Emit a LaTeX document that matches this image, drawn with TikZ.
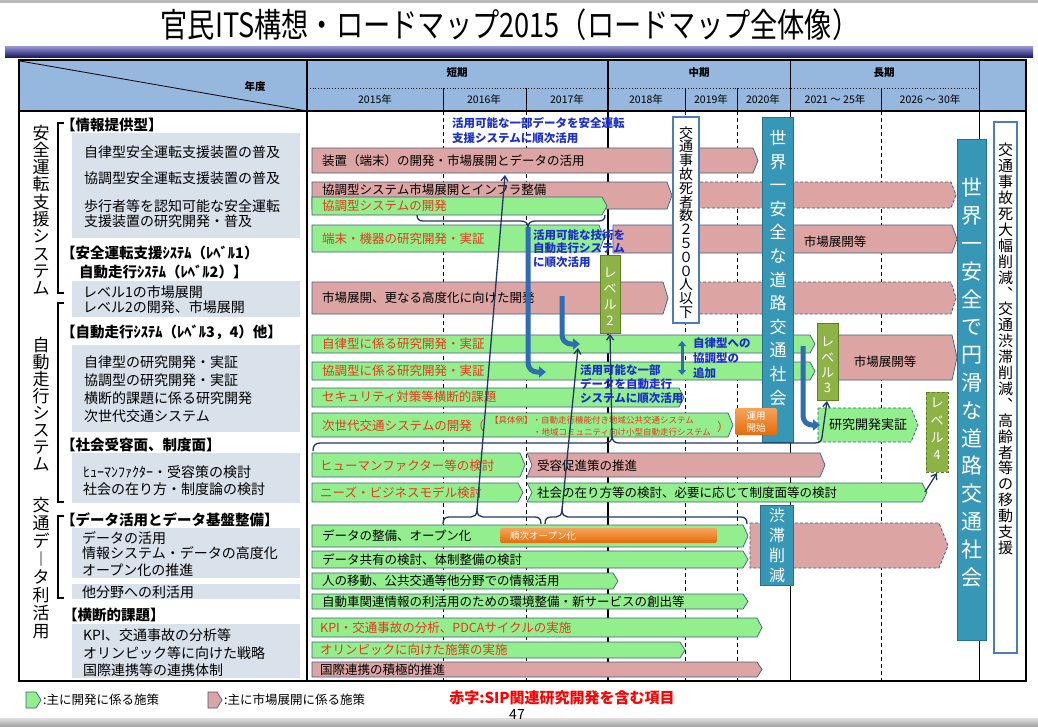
\documentclass[tikz,border=0pt]{standalone}
\usepackage{fontspec}
\usepackage{graphicx}
\setmainfont{Noto Sans CJK JP}
\usetikzlibrary{arrows.meta}
\definecolor{pk}{HTML}{DCA4A3}
\definecolor{gr}{HTML}{93EF8E}
\definecolor{bd}{HTML}{3F5F80}
\definecolor{tealc}{HTML}{3797B7}
\definecolor{teald}{HTML}{25718C}
\definecolor{olive}{HTML}{8DB346}
\definecolor{olived}{HTML}{5F7F26}
\definecolor{redt}{HTML}{E8361B}
\definecolor{bluet}{HTML}{1B2FCC}
\definecolor{navy}{HTML}{1F3864}
\definecolor{thk}{HTML}{2F6DB3}
\definecolor{gbox}{HTML}{D9E1EB}
\definecolor{hdr}{HTML}{96B7DE}
\definecolor{orng}{HTML}{E46C0A}
\definecolor{orngl}{HTML}{F6A35A}
\definecolor{wbord}{HTML}{4A7EBB}
\definecolor{barl}{HTML}{9A9AD8}
\definecolor{bard}{HTML}{1C1C66}
\def\cd{5}
\newcommand\chev[6]{%
  \path[#1] (#3,#5) -- ({#4-\cd},#5) -- (#4,{(#5+#6)/2}) -- ({#4-\cd},#6) -- (#3,#6) -- cycle;
  \coordinate (#2) at (#3,{(#5+#6)/2});}
\newcommand\chevn[6]{%
  \path[#1] (#3,#5) -- ({#4-\cd},#5) -- (#4,{(#5+#6)/2}) -- ({#4-\cd},#6) -- (#3,#6) -- ({#3+\cd},{(#5+#6)/2}) -- cycle;
  \coordinate (#2) at (#3,{(#5+#6)/2});}
\begin{document}
\begin{tikzpicture}[x=1pt,y=-1pt,
  pinkb/.style={fill=pk, draw=bd, line width=0.7},
  greenb/.style={fill=gr, draw=bd, line width=0.7},
  pinkd/.style={fill=pk, draw=bd, line width=0.8, dash pattern=on 3pt off 2pt},
  greend/.style={fill=gr, draw=bd, line width=0.8, dash pattern=on 3pt off 2pt},
  lab/.style={anchor=west, inner sep=0, font=\fontsize{12.5}{14}\selectfont},
  labr/.style={lab, text=redt},
  ltxt/.style={anchor=west, inner sep=0, font=\fontsize{14}{15}\selectfont},
  sec/.style={anchor=west, inner sep=0, font=\bfseries\fontsize{14.5}{16}\selectfont},
  blu/.style={anchor=west, inner sep=0, text=bluet, font=\bfseries\fontsize{11.5}{13}\selectfont},
  vt/.style={align=center, inner sep=0},
  hd/.style={font=\bfseries\fontsize{10.5}{12}\selectfont, inner sep=0},
  yr/.style={font=\fontsize{10.5}{12}\selectfont, inner sep=0},
  thinarr/.style={draw=navy, line width=1.3, -{Straight Barb[length=5pt,width=7pt]}},
  brace/.style={draw=navy, line width=1.3},
  fatarr/.style={draw=thk, line width=5, -{Triangle[length=7pt,width=11pt]}, rounded corners=9},
  gridd/.style={line width=0.8, dash pattern=on 4pt off 3pt},
  tbox/.style={fill=tealc, draw=teald, line width=1},
  wbox/.style={fill=white, draw=wbord, line width=2},
  obox/.style={fill=olive, draw=olived, line width=1}]
\useasboundingbox (0,0) rectangle (1038,726);
\fill[white] (0,0) rectangle (1038,726);
\fill[gray!55] (0,0) rectangle (1038,3);
\shade[top color=gray!25, bottom color=gray!70] (0,718) rectangle (1038,726);
% title
\node[font=\fontsize{27.5}{30}\selectfont, inner sep=0] (title) at (510,25) {\scalebox{0.99}[1.22]{官民ITS構想・ロードマップ2015（ロードマップ全体像）}};
\shade[top color=barl, bottom color=bard] (5,46) rectangle (1033,57);
% header
\fill[hdr] (19,60) rectangle (1026,111);
\draw[line width=0.8] (20,61) -- (307,111);
\node[hd] (nendo) at (255,87) {年度};
\draw[line width=0.8, dotted] (307,88) -- (979,88);
\foreach \x in {443,526,685,737,881} \draw[line width=0.6] (\x,88) -- (\x,111);
\node[hd] (tanki) at (457,73) {短期};
\node[hd] (chuki) at (699,73) {中期};
\node[hd] (choki) at (884,73) {長期};
\node[yr] (y15) at (375,99) {2015年};
\node[yr] (y16) at (484,99) {2016年};
\node[yr] (y17) at (567,99) {2017年};
\node[yr] (y18) at (646,99) {2018年};
\node[yr] (y19) at (711,99) {2019年};
\node[yr] (y20) at (763,99) {2020年};
\node[yr] (y21) at (835,99) {2021 ～ 25年};
\node[yr] (y26) at (930,99) {2026 ～ 30年};
% grid
\foreach \x in {443,526,685,737,881} \draw[gridd] (\x,111) -- (\x,681);
\draw[line width=1.6] (608,60) -- (608,681);
\draw[line width=1] (790,60) -- (790,681);
\draw[line width=1] (979,60) -- (979,681);
\draw[line width=2] (19,111) -- (1026,111);
\draw[line width=2] (307,60) -- (307,681);
\draw[line width=2.5] (19,60) rectangle (1026,681);
% left column
\node[vt, font=\fontsize{17}{17.3}\selectfont] (cat1) at (41,210) {安\\全\\運\\転\\支\\援\\シ\\ス\\テ\\ム};
\node[vt, font=\fontsize{17}{16.9}\selectfont] (cat2) at (41,404) {自\\動\\走\\行\\シ\\ス\\テ\\ム};
\node[vt, font=\fontsize{17}{18.1}\selectfont] (cat3) at (41,568) {交\\通\\デ\\︱\\タ\\利\\活\\用};
\draw[line width=1.3] (64,123) -- (58,123) -- (58,293) -- (64,293);
\draw[line width=1.3] (64,303) -- (58,303) -- (58,502) -- (64,502);
\draw[line width=1.3] (64,516) -- (58,516) -- (58,598) -- (64,598);
\fill[gbox] (72,133) rectangle (300,238);
\fill[gbox] (72,281) rectangle (300,317);
\fill[gbox] (72,345) rectangle (300,432);
\fill[gbox] (72,453) rectangle (300,503);
\fill[gbox] (72,528) rectangle (300,578);
\fill[gbox] (72,584) rectangle (300,599);
\fill[gbox] (72,624) rectangle (300,678);
\node[sec] (s1) at (61,125) {【情報提供型】};
\node[ltxt] (l1) at (84,152) {自律型安全運転支援装置の普及};
\node[ltxt] (l2) at (84,178) {協調型安全運転支援装置の普及};
\node[ltxt] (l3) at (84,206) {歩行者等を認知可能な安全運転};
\node[ltxt] (l4) at (84,221) {支援装置の研究開発・普及};
\node[sec] (s2) at (61,253) {【安全運転支援ｼｽﾃﾑ（ﾚﾍﾞﾙ1）};
\node[sec] (s2b) at (79,272) {自動走行ｼｽﾃﾑ（ﾚﾍﾞﾙ2）】};
\node[ltxt] (l5) at (83,292) {レベル1の市場展開};
\node[ltxt] (l6) at (83,307) {レベル2の開発、市場展開};
\node[sec] (s3) at (61,332) {【自動走行ｼｽﾃﾑ（ﾚﾍﾞﾙ3，4）他】};
\node[ltxt] (l7) at (84,362) {自律型の研究開発・実証};
\node[ltxt] (l8) at (84,380) {協調型の研究開発・実証};
\node[ltxt] (l9) at (84,398) {横断的課題に係る研究開発};
\node[ltxt] (l10) at (84,416) {次世代交通システム};
\node[sec] (s4) at (61,445) {【社会受容面、制度面】};
\node[ltxt] (l11) at (83,472) {ﾋｭｰﾏﾝﾌｧｸﾀｰ・受容策の検討};
\node[ltxt] (l12) at (83,489) {社会の在り方・制度論の検討};
\node[sec] (s5) at (61,520) {【データ活用とデータ基盤整備】};
\node[ltxt] (l13) at (82,538) {データの活用};
\node[ltxt] (l14) at (82,553) {情報システム・データの高度化};
\node[ltxt] (l15) at (82,570) {オープン化の推進};
\node[ltxt] (l16) at (82,592) {他分野への利活用};
\node[sec] (s6) at (63,615) {【横断的課題】};
\node[ltxt] (l17) at (83,635) {KPI、交通事故の分析等};
\node[ltxt] (l18) at (83,653) {オリンピック等に向けた戦略};
\node[ltxt] (l19) at (83,670) {国際連携等の連携体制};
% bars
\chev{pinkb}{p1}{312}{758}{148}{173}
\node[lab] (p1t) at (322,161) {装置（端末）の開発・市場展開とデータの活用};
\chev{pinkb}{p2}{312}{672}{182}{209}
\node[lab] (p2t) at (322,190) {協調型システム市場展開とインフラ整備};
\chev{pinkd}{p2d}{690}{956}{182}{208}
\chev{greenb}{g2}{312}{607}{197}{215}
\node[labr] (g2t) at (322,206) {協調型システムの開発};
\chev{greenb}{g3}{312}{604}{225}{252}
\node[labr] (g3t) at (322,239) {端末・機器の研究開発・実証};
\chev{pinkb}{p3}{613}{957}{225}{253}
\node[lab, anchor=center] (p3t) at (835,242) {市場展開等};
\chev{pinkb}{p4}{312}{668}{282}{314}
\node[lab] (p4t) at (322,298) {市場展開、更なる高度化に向けた開発};
\chev{pinkd}{p4d}{688}{956}{282}{314}
\chev{greenb}{g5}{312}{815}{335}{353}
\node[labr] (g5t) at (322,344) {自律型に係る研究開発・実証};
\chev{greenb}{g6}{312}{815}{362}{380}
\node[labr] (g6t) at (322,371) {協調型に係る研究開発・実証};
\chev{greenb}{g7}{312}{684}{388}{407}
\node[labr] (g7t) at (322,397) {セキュリティ対策等横断的課題};
\chev{greenb}{g8}{312}{733}{413}{437}
\node[labr] (g8t) at (322,426) {次世代交通システムの開発（};
\node[anchor=west, inner sep=0, text=redt, font=\fontsize{8.5}{9}\selectfont] (g8a) at (490,420) {【具体例】・自動走行機能付き地域公共交通システム};
\node[anchor=west, inner sep=0, text=redt, font=\fontsize{8.5}{9}\selectfont] (g8b) at (533,432) {・地域コミュニティ向け小型自動走行システム};
\node[anchor=west, inner sep=0, text=redt, font=\fontsize{12}{13}\selectfont] (g8c) at (717,427) {）};
\chev{pinkb}{p5}{837}{957}{335}{380}
\node[lab, anchor=center] (p5t) at (885,362) {市場展開等};
\def\cd{7}
\chev{greend}{g9}{818}{918}{408}{442}
\def\cd{5}
\node[anchor=center, inner sep=0, font=\fontsize{13}{14}\selectfont] (g9t) at (868,425) {研究開発実証};
\chev{greenb}{g10}{312}{525}{453}{477}
\node[labr] (g10t) at (320,466) {ヒューマンファクター等の検討};
\chevn{pinkb}{p6}{527}{825}{453}{477}
\node[lab] (p6t) at (537,466) {受容促進策の推進};
\chev{greenb}{g11}{312}{523}{483}{502}
\node[labr] (g11t) at (320,493) {ニーズ・ビジネスモデル検討};
\chevn{greenb}{g12}{527}{927}{483}{502}
\node[lab] (g12t) at (537,493) {社会の在り方等の検討、必要に応じて制度面等の検討};
\chev{greenb}{g13}{312}{748}{525}{547}
\node[lab] (g13t) at (322,536) {データの整備、オープン化};
\shade[top color=orngl, bottom color=orng, rounded corners=2] (500,528) rectangle (717,543);
\node[anchor=west, inner sep=0, text=white, font=\fontsize{9.5}{10}\selectfont] (o1t) at (510,535.5) {順次オープン化};
\chev{greenb}{g14}{312}{748}{551}{568}
\node[lab] (g14t) at (322,560) {データ共有の検討、体制整備の検討};
\def\cd{9}
\chev{pinkd}{p7d}{750}{948}{523}{568}
\def\cd{5}
\chev{greenb}{g15}{312}{618}{573}{589}
\node[lab] (g15t) at (322,581) {人の移動、公共交通等他分野での情報活用};
\chev{greenb}{g16}{312}{748}{594}{609}
\node[lab] (g16t) at (322,602) {自動車関連情報の利活用のための環境整備・新サービスの創出等};
\chev{greenb}{g17}{312}{762}{618}{637}
\node[labr] (g17t) at (320,628) {KPI・交通事故の分析、PDCAサイクルの実施};
\chev{greenb}{g18}{312}{685}{642}{658}
\node[labr] (g18t) at (320,650) {オリンピックに向けた施策の実施};
\chev{pinkb}{p8}{312}{762}{662}{677}
\node[lab] (p8t) at (320,670) {国際連携の積極的推進};
% tall boxes
\path[wbox] (673,117) rectangle (699,323);
\node[vt, font=\fontsize{14}{13.8}\selectfont] (t1) at (686,222.5) {交\\通\\事\\故\\死\\者\\数\\２\\５\\０\\０\\人\\以\\下};
\path[tbox] (762,117) rectangle (793,442);
\node[vt, text=white, font=\fontsize{17}{23.6}\selectfont] (t2) at (778,268) {世\\界\\一\\安\\全\\な\\道\\路\\交\\通\\社\\会};
\path[tbox] (760,505) rectangle (793,585);
\node[vt, text=white, font=\fontsize{16}{20}\selectfont] (t3) at (777,545) {渋\\滞\\削\\減};
\path[tbox] (957,139) rectangle (986,640);
\node[vt, text=white, font=\fontsize{21}{27.8}\selectfont] (t4) at (971.5,382.5) {世\\界\\一\\安\\全\\で\\円\\滑\\な\\道\\路\\交\\通\\社\\会};
\path[wbox] (994,122) rectangle (1017,653);
\node[vt, font=\fontsize{15}{15.9}\selectfont] (t5) at (1005.5,349) {交\\通\\事\\故\\死\\大\\幅\\削\\減\\︑\\交\\通\\渋\\滞\\削\\減\\︑\\高\\齢\\者\\等\\の\\移\\動\\支\\援};
\path[obox] (600,255) rectangle (620,333);
\node[vt, text=white, font=\fontsize{13}{16}\selectfont] (lv2) at (610,297) {レ\\ベ\\ル\\2};
\path[obox] (817,323) rectangle (838,400);
\node[vt, text=white, font=\fontsize{13}{15.3}\selectfont] (lv3) at (827.5,365) {レ\\ベ\\ル\\3};
\path[obox, dash pattern=on 3pt off 2pt] (926,392) rectangle (948,472);
\node[vt, text=white, font=\fontsize{13}{17.3}\selectfont] (lv4) at (937,429) {レ\\ベ\\ル\\4};
% operation start box (in front of the teal box)
\shade[top color=orngl, bottom color=orng, rounded corners=2] (735,408) rectangle (777,435);
\node[inner sep=0, text=white, font=\fontsize{9.5}{10}\selectfont] (unyo1) at (756,416) {運用};
\node[inner sep=0, text=white, font=\fontsize{9.5}{10}\selectfont] (unyo2) at (756,428) {開始};
% blue notes
\node[blu] (n1a) at (452,123) {活用可能な一部データを安全運転};
\node[blu] (n1b) at (452,138) {支援システムに順次活用};
\node[blu] (n2a) at (533,235) {活用可能な技術を};
\node[blu] (n2b) at (533,248) {自動走行システム};
\node[blu] (n2c) at (533,262) {に順次活用};
\node[blu] (n3a) at (580,370) {活用可能な一部};
\node[blu] (n3b) at (580,384) {データを自動走行};
\node[blu] (n3c) at (580,398) {システムに順次活用};
\node[blu] (n4a) at (693,343) {自律型への};
\node[blu] (n4b) at (693,358) {協調型の};
\node[blu] (n4c) at (693,373) {追加};
% braces
\coordinate (b0tip) at (528,227);
\draw[brace] (417,215) .. controls (417,219) and (419,221) .. (423,221) -- (521,221) .. controls (525,221) and (528,223) .. (b0tip) .. controls (528,223) and (531,221) .. (535,221) -- (599,221) .. controls (603,221) and (605,219) .. (605,215);
\coordinate (b1tip) at (612,436);
\coordinate (b1end) at (822,437);
\draw[brace] (313,451) .. controls (313,446) and (315,443) .. (320,443) -- (605,443) .. controls (609,443) and (612,441) .. (b1tip) .. controls (612,441) and (615,443) .. (619,443) -- (815,443) .. controls (819,443) and (822,441) .. (b1end);
\coordinate (b2tip) at (477,510);
\coordinate (b3tip) at (562,510);
\draw[brace] (443,524) .. controls (443,519) and (445,517) .. (449,517) -- (471,517) .. controls (474,517) and (477,515) .. (b2tip) .. controls (477,515) and (480,517) .. (483,517) -- (535,517) .. controls (539,517) and (541,519) .. (541,524);
\draw[brace] (545,524) .. controls (545,519) and (547,517) .. (551,517) -- (556,517) .. controls (559,517) and (562,515) .. (b3tip) .. controls (562,515) and (565,517) .. (568,517) -- (741,517) .. controls (745,517) and (747,519) .. (747,524);
% thin arrows
\coordinate (p1bot) at (505,175);
\coordinate (g5pt) at (578,348);
\coordinate (lv2bot) at (610,334);
\coordinate (lv3bot) at (827,401);
\coordinate (lv4bot) at (937,473);
\coordinate (g12tip) at (925,492);
\draw[thinarr] (b2tip) -- (p1bot);
\draw[thinarr] (b3tip) -- (g5pt);
\draw[thinarr] (b1tip) -- (lv2bot);
\draw[thinarr] (b1end) -- (lv3bot);
\draw[thinarr] (g12tip) -- (lv4bot);
% thick arrows
\coordinate (tb1e) at (546,372);
\coordinate (tb2s) at (562,296);
\coordinate (tb2e) at (580,344);
\coordinate (tb3s) at (803,346);
\coordinate (tb3e) at (820,425);
\draw[fatarr] (b0tip) -- (528,372) -- (tb1e);
\draw[fatarr] (tb2s) -- (562,344) -- (tb2e);
\draw[fatarr] (tb3s) -- (803,425) -- (tb3e);
\coordinate (da1) at (682,341);
\coordinate (da2) at (682,375);
\draw[draw=thk, line width=3, {Triangle[length=5pt,width=8pt]}-{Triangle[length=5pt,width=8pt]}] (da1) -- (da2);
% legend
\chev{greenb}{lg1}{26}{41}{692}{708}
\node[anchor=west, inner sep=0, font=\fontsize{12.5}{14}\selectfont] (lg1t) at (43,700) {:主に開発に係る施策};
\chev{pinkb}{lg2}{208}{222}{692}{708}
\node[anchor=west, inner sep=0, font=\fontsize{12.5}{14}\selectfont] (lg2t) at (224,700) {:主に市場展開に係る施策};
\node[inner sep=0, text=red, font=\bfseries\fontsize{15}{16}\selectfont] (note) at (562,698) {赤字:SIP関連研究開発を含む項目};
\node[inner sep=0, font=\fontsize{14}{15}\selectfont] (pg) at (517,714) {47};
\end{tikzpicture}
\end{document}
